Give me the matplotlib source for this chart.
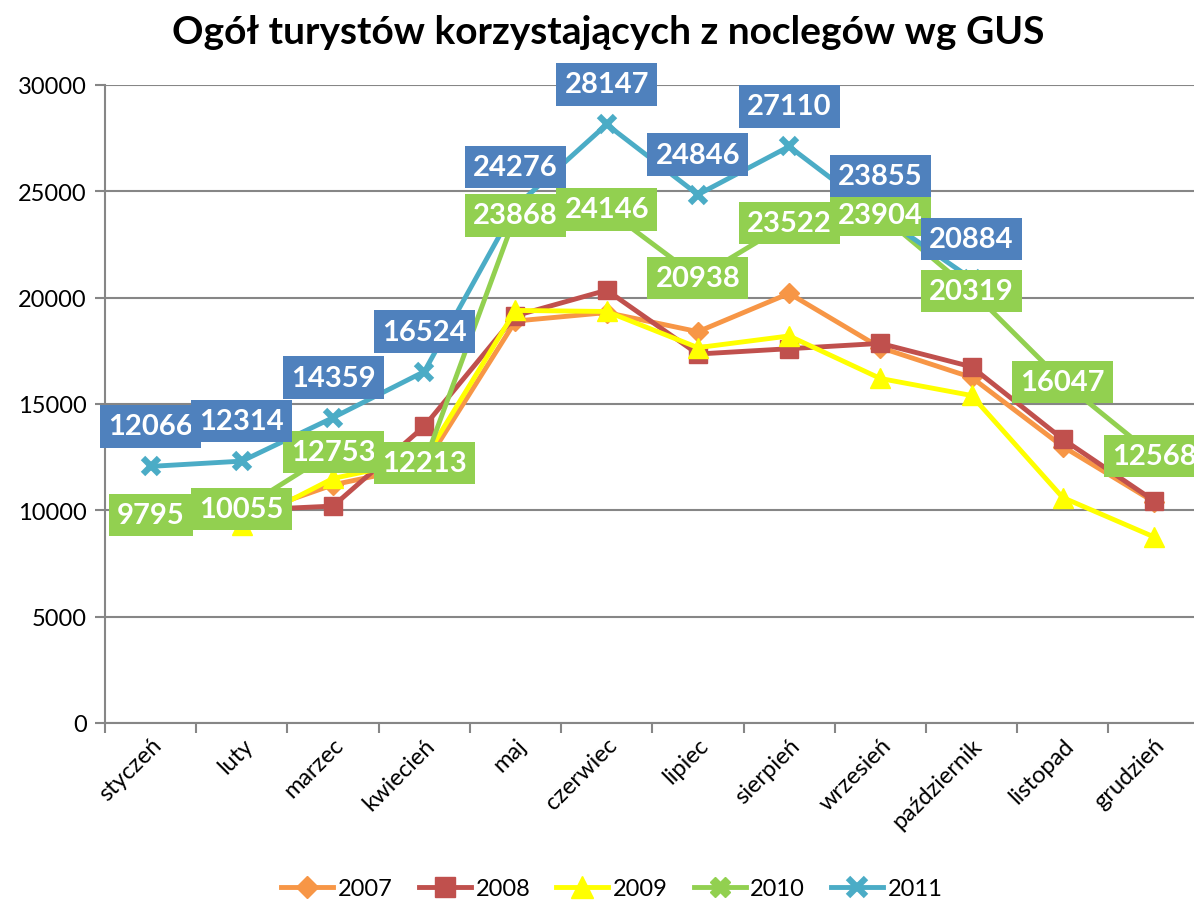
import matplotlib
matplotlib.use("Agg")
import matplotlib.pyplot as plt
from matplotlib.ticker import MultipleLocator, FixedLocator

plt.rcParams['font.family'] = ['Lato', 'DejaVu Sans']

months = ['styczeń', 'luty', 'marzec', 'kwiecień', 'maj', 'czerwiec',
          'lipiec', 'sierpień', 'wrzesień', 'październik', 'listopad', 'grudzień']

y2007 = [9400, 9700, 11200, 12100, 18900, 19300, 18400, 20200, 17650, 16250, 13000, 10400]
y2008 = [9500, 10000, 10200, 13950, 19150, 20350, 17350, 17600, 17850, 16750, 13350, 10450]
y2009 = [9600, 9300, 11500, 12400, 19400, 19350, 17650, 18200, 16200, 15400, 10600, 8750]
y2010 = [9795, 10055, 12753, 12213, 23868, 24146, 20938, 23522, 23904, 20319, 16047, 12568]
y2011 = [12066, 12314, 14359, 16524, 24276, 28147, 24846, 27110, 23855, 20884]

title = 'Ogół turystów korzystających z noclegów wg GUS'

fig = plt.figure(figsize=(11.94, 9.04), dpi=100)
ax = fig.add_axes([105 / 1194, 1 - 724 / 904, 1094.6 / 1194, 638 / 904])

x = list(range(len(months)))
lw = 3.5
ax.plot(x, y2007, color='#F79646', lw=lw, marker='D', ms=10, label='2007', zorder=3)
ax.plot(x, y2008, color='#C0504D', lw=lw, marker='s', ms=13, label='2008', zorder=3)
ax.plot(x, y2009, color='#FFFF00', lw=lw, marker='^', ms=14, label='2009', zorder=3)
ax.plot(x, y2010, color='#92D050', lw=lw, marker='X', ms=13, label='2010', zorder=4)
ax.plot(x[:len(y2011)], y2011, color='#4BACC6', lw=lw, marker='x', ms=12, mew=4.5,
        label='2011', zorder=5)

# etykiety danych
for xi, v in zip(x, y2010):
    ax.annotate(str(v), (xi, v), xytext=(0, 0), textcoords='offset pixels',
                ha='center', va='center', color='white', fontsize=21, fontweight='bold',
                bbox=dict(boxstyle='square,pad=0.28', fc='#92D050', ec='none'),
                zorder=6, annotation_clip=False)
for xi, v in zip(x, y2011):
    ax.annotate(str(v), (xi, v), xytext=(0, 40), textcoords='offset pixels',
                ha='center', va='center', color='white', fontsize=21, fontweight='bold',
                bbox=dict(boxstyle='square,pad=0.28', fc='#4F81BD', ec='none'),
                zorder=7, annotation_clip=False)

ax.set_xlim(-0.5, len(months) - 0.5)
ax.set_ylim(0, 30000)
ax.yaxis.set_major_locator(MultipleLocator(5000))
ax.grid(axis='y', color='#868686', lw=1.5)
ax.set_axisbelow(True)

ax.set_xticks(x)
ax.set_xticklabels(months, rotation=45, ha='right', rotation_mode='anchor', fontsize=17)
ax.xaxis.set_minor_locator(FixedLocator([i - 0.5 for i in range(len(months) + 1)]))
ax.tick_params(axis='x', which='major', length=0, pad=8)
ax.tick_params(axis='x', which='minor', length=7, width=1.5, color='#868686')
ax.tick_params(axis='y', length=7, width=1.5, color='#868686', labelsize=17, pad=6)

for s in ['top', 'right']:
    ax.spines[s].set_visible(False)
for s in ['left', 'bottom']:
    ax.spines[s].set_color('#868686')
    ax.spines[s].set_linewidth(1.5)

fig.text(608 / 1194, 1 - 32 / 904, title, ha='center', va='center',
         fontsize=28, fontweight='bold')

fig.legend(loc='center', bbox_to_anchor=(612 / 1194, 1 - 890 / 904), ncol=5,
           frameon=False, fontsize=17, handlelength=2.2, columnspacing=1.1,
           handletextpad=0.2, markerscale=1.1)

fig.savefig('out.png', dpi=100)
